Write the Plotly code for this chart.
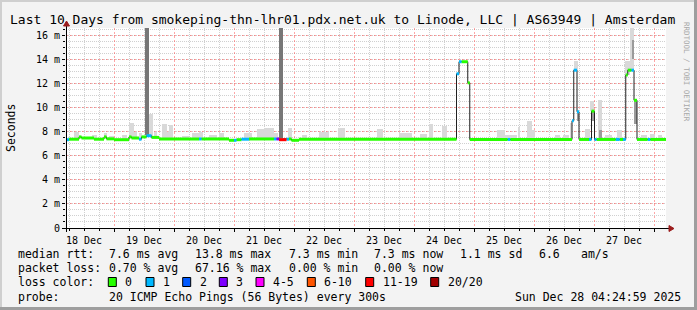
import plotly.graph_objects as go
from datetime import datetime, timedelta

# ---------------- data (hours since 2025-12-18 00:00, values in ms) ----------------
RANGE_H = [4.8, 244.8]
DAY_LABEL_FMT = "%d %b"

# median rtt runs: start hour, end hour, median (ms), loss class index
med_start = [4.8, 6, 10, 11, 16, 20, 21, 24, 30, 31, 34, 35, 37, 39, 42, 58, 59, 70, 72, 73,
             75, 78, 88, 89, 90, 93, 94, 95, 98, 161, 162, 163, 165.5, 166.3, 181.5, 182.5,
             207.2, 207.9, 209.2, 210, 214, 215, 216.2, 217, 224.7, 226.3, 227.6, 228.7,
             229.5, 231, 232, 233.2, 237.5, 238.5]
med_end = med_start[1:] + [244.8]
med_val = [7.33, 7.37, 7.56, 7.47, 7.37, 7.56, 7.40, 7.33, 7.56, 7.47, 7.37, 7.56, 7.66, 7.52,
           7.39, 7.39, 7.39, 7.28, 7.28, 7.33, 7.37, 7.39, 7.39, 7.39, 7.33, 7.37, 7.39, 7.28,
           7.37, 12.8, 13.8, 13.8, 12.05, 7.35, 7.35, 7.35, 8.9, 13.1, 9.65, 7.35, 7.35, 9.7,
           7.35, 7.35, 7.35, 7.35, 7.35, 12.7, 13.1, 13.1, 10.6, 7.35, 7.35, 7.35]
med_loss = [1, 0, 0, 0, 0, 0, 0, 0, 0, 0, 1, 0, 1, 0, 0, 1, 0, 0, 1, 0,
            1, 0, 1, 3, 6, 1, 0, 0, 0, 1, 1, 0, 0, 0, 1, 0,
            1, 1, 1, 0, 1, 0, 1, 0, 1, 0, 1, 0, 0, 1, 0, 0, 1, 0]

# light smoke (ping spread above the median): start hour, end hour, top (ms)
smoke_start = [8, 15, 20, 22, 27, 30, 32, 34, 38, 40, 43, 45, 46, 51, 55, 58, 62, 66, 76, 81,
               84, 88, 93.5, 99, 106, 113.5, 129, 138, 150, 155, 146.5, 177, 180.5, 185.5,
               189, 191, 200.5, 203.5, 206.3, 208, 212.4, 214.4, 217.6, 220.4, 225.2, 228.4,
               230.5, 234.8, 238.4, 241.6]
smoke_end = [10, 17, 21, 24, 29, 32, 33, 35, 39.5, 41, 45, 46, 47.5, 54, 58, 59.5, 65, 68, 79, 84,
             88, 89.5, 95, 101, 110, 116.5, 131.5, 143, 151.5, 157, 149, 180.5, 185.2, 186.5,
             191, 192.5, 202.5, 206, 207.2, 209.6, 214.4, 216, 219.2, 223.2, 227.2, 230.5,
             232, 237.2, 240.4, 243.2]
smoke_top = [7.95, 7.75, 7.9, 7.65, 7.7, 8.7, 8.0, 7.9, 9.5, 8.0, 8.65, 8.0, 8.55, 7.65, 7.85,
             8.0, 7.7, 7.85, 7.85, 8.2, 8.3, 7.9, 8.3, 7.7, 8.0, 8.3, 8.2, 7.9, 8.6, 8.5, 7.8,
             8.15, 7.75, 8.35, 8.85, 8.15, 7.75, 7.75, 8.7, 13.85, 8.2, 10.55, 10.65, 7.75,
             8.15, 13.85, 16.6, 7.75, 7.8, 7.75]

# dense smoke: start hour, end hour, low, high (ms), shade (0 = dark, 1 = medium)
dense_start = [36.5, 90, 209.2, 215, 218, 231, 232]
dense_end = [38, 91.5, 210, 216.2, 219, 232, 233.2]
dense_low = [7.7, 7.5, 8.85, 8.9, 7.45, 14.0, 8.6]
dense_high = [16.6, 16.6, 9.65, 9.7, 8.15, 15.6, 10.6]
dense_shade = [0, 0, 1, 1, 1, 1, 1]

loss_labels = ["0", "1", "2", "3", "4-5", "6-10", "11-19", "20/20"]
loss_colors = ["#26ff00", "#00b8ff", "#0059ff", "#7e00ff", "#ff00ff", "#ff5500", "#ff0000", "#a10000"]

y_tick_vals = [0, 2, 4, 6, 8, 10, 12, 14, 16]
y_tick_text = ["0", "2 m", "4 m", "6 m", "8 m", "10 m", "12 m", "14 m", "16 m"]
Y_MAX = 16.6

title_text = "Last 10 Days from smokeping-thn-lhr01.pdx.net.uk to Linode, LLC | AS63949 | Amsterdam"
stats_rtt = [("median rtt:", 16), ("7.6 ms avg", 107.3), ("13.8 ms max", 193.3), ("7.3 ms min", 286.7),
             ("7.3 ms now", 372.3), ("1.1 ms sd", 458.3), ("6.6", 536.7), ("am/s", 579)]
stats_loss = [("packet loss:", 16), ("0.70 % avg", 107.3), ("67.16 % max", 193.3),
              ("0.00 % min", 286.7), ("0.00 % now", 372.3)]
probe_text = "20 ICMP Echo Pings (56 Bytes) every 300s"
stamp_text = "Sun Dec 28 04:24:59 2025"

# ---------------- layout geometry ----------------
W, H = 697, 310
PL, PR, PT, PB = 66, 666, 28, 228
T0 = datetime(2025, 12, 18)
MONO = "DejaVu Sans Mono"


def at(h):
    return T0 + timedelta(hours=h)


def px(x):
    return (x - PL) / (PR - PL)


def py(y):
    return (PB - y) / (PB - PT)


def median_at(h):
    for s, e, v in zip(med_start, med_end, med_val):
        if s <= h < e:
            return v
    return med_val[-1]


fig = go.Figure()

# light smoke
mids = [(s + e) / 2 for s, e in zip(smoke_start, smoke_end)]
bases = [median_at(m) for m in mids]
fig.add_trace(go.Bar(
    x=[at(m) for m in mids],
    y=[t - b for t, b in zip(smoke_top, bases)],
    base=bases,
    width=[(e - s) * 3600 * 1000 for s, e in zip(smoke_start, smoke_end)],
    marker=dict(color="#d9d9d9", line=dict(width=0)),
    hoverinfo="skip", showlegend=False))

# dense smoke
shade_cols = ["#777777", "#9a9a9a"]
dmids = [(s + e) / 2 for s, e in zip(dense_start, dense_end)]
fig.add_trace(go.Bar(
    x=[at(m) for m in dmids],
    y=[hi - lo for lo, hi in zip(dense_low, dense_high)],
    base=dense_low,
    width=[(e - s) * 3600 * 1000 for s, e in zip(dense_start, dense_end)],
    marker=dict(color=[shade_cols[k] for k in dense_shade], line=dict(width=0)),
    hoverinfo="skip", showlegend=False))

# thin median line
mx, my = [], []
for s, e, v in zip(med_start, med_end, med_val):
    mx += [at(s), at(e)]
    my += [v, v]
fig.add_trace(go.Scatter(x=mx, y=my, mode="lines", line=dict(color="#202020", width=1),
                         hoverinfo="skip", showlegend=False))

# loss coloured median bands
for ci, col in enumerate(loss_colors):
    sx, sy = [], []
    for s, e, v, lc in zip(med_start, med_end, med_val, med_loss):
        if lc == ci:
            sx += [at(s), at(e), None]
            sy += [v, v, None]
    if sx:
        fig.add_trace(go.Scatter(x=sx, y=sy, mode="lines", line=dict(color=col, width=3),
                                 hoverinfo="skip", showlegend=False))

grid_minor = "rgba(150,150,150,0.45)"
grid_major = "rgba(255,60,60,0.45)"

fig.update_layout(
    width=W, height=H,
    margin=dict(l=PL, r=W - PR, t=PT, b=H - PB, pad=0),
    paper_bgcolor="#f3f3f3", plot_bgcolor="#ffffff",
    barmode="overlay", bargap=0,
    showlegend=False,
    font=dict(family=MONO, color="#000000", size=10),
    xaxis=dict(
        type="date", range=[at(RANGE_H[0]), at(RANGE_H[1])],
        tick0=T0, dtick=86400000, ticklabelmode="period", tickformat=DAY_LABEL_FMT,
        showgrid=True, gridcolor=grid_major, griddash="2px,2px", gridwidth=1,
        ticks="outside", ticklen=3, tickcolor="#000000",
        minor=dict(dtick=6 * 3600 * 1000, tick0=T0, showgrid=True, gridcolor=grid_minor,
                   griddash="1px,1px", ticks="outside", ticklen=2, tickcolor="#000000"),
        showline=False, zeroline=False, fixedrange=True,
        tickfont=dict(family=MONO, size=10),
    ),
    yaxis=dict(
        range=[0, Y_MAX], tickvals=y_tick_vals, ticktext=y_tick_text,
        showgrid=True, gridcolor=grid_major, griddash="2px,2px",
        ticks="outside", ticklen=3, tickcolor="#000000",
        minor=dict(dtick=0.5, showgrid=True, gridcolor=grid_minor, griddash="1px,1px",
                   ticks="outside", ticklen=2, tickcolor="#000000"),
        showline=False, zeroline=False, fixedrange=True,
        tickfont=dict(family=MONO, size=10),
    ),
)

shapes = []
# frame shading
shapes.append(dict(type="rect", xref="paper", yref="paper", x0=px(0), x1=px(W), y0=py(0), y1=py(2),
                   fillcolor="#cfcfcf", line_width=0, layer="below"))
shapes.append(dict(type="rect", xref="paper", yref="paper", x0=px(0), x1=px(2), y0=py(0), y1=py(H),
                   fillcolor="#cfcfcf", line_width=0, layer="below"))
shapes.append(dict(type="rect", xref="paper", yref="paper", x0=px(W - 3), x1=px(W), y0=py(0), y1=py(H),
                   fillcolor="#9e9e9e", line_width=0, layer="below"))
shapes.append(dict(type="rect", xref="paper", yref="paper", x0=px(0), x1=px(W), y0=py(H - 3), y1=py(H),
                   fillcolor="#9e9e9e", line_width=0, layer="below"))
# axes with arrows
shapes.append(dict(type="line", xref="paper", yref="paper", x0=px(PL + 0.5), x1=px(PL + 0.5),
                   y0=py(PB + 4), y1=py(PT - 5), line=dict(color="#000000", width=1)))
shapes.append(dict(type="line", xref="paper", yref="paper", x0=px(PL - 4), x1=px(PR + 4),
                   y0=py(PB + 0.5), y1=py(PB + 0.5), line=dict(color="#000000", width=1)))
shapes.append(dict(type="path", xref="paper", yref="paper",
                   path="M {} {} L {} {} L {} {} Z".format(px(PL - 2.5), py(PT - 2), px(PL + 3.5), py(PT - 2),
                                                           px(PL + 0.5), py(PT - 7)),
                   fillcolor="#9b1c1c", line=dict(color="#9b1c1c", width=1)))
shapes.append(dict(type="path", xref="paper", yref="paper",
                   path="M {} {} L {} {} L {} {} Z".format(px(PR + 3), py(PB - 2.5), px(PR + 3), py(PB + 3.5),
                                                           px(PR + 8), py(PB + 0.5)),
                   fillcolor="#9b1c1c", line=dict(color="#9b1c1c", width=1)))

annotations = []


def txt(s, x, y, size=11.5, color="#000000", **kw):
    annotations.append(dict(text=s, xref="paper", yref="paper", x=px(x), y=py(y), showarrow=False,
                            xanchor=kw.get("xanchor", "left"), yanchor="middle",
                            font=dict(family=MONO, size=size, color=color),
                            textangle=kw.get("textangle", 0)))


txt(title_text, 8, 19, size=13)
txt("Seconds", 11, 128, textangle=-90, xanchor="center")
for s, x in stats_rtt:
    txt(s, x, 254)
for s, x in stats_loss:
    txt(s, x, 268)
txt("loss color:", 16, 282)
box_x = [108.3, 146, 182.7, 219.3, 256, 307.3, 365.7, 430.7]
for lab, col, bx in zip(loss_labels, loss_colors, box_x):
    shapes.append(dict(type="rect", xref="paper", yref="paper", x0=px(bx), x1=px(bx + 8),
                       y0=py(277.5), y1=py(286.5), fillcolor=col, line=dict(color="#000000", width=1)))
    txt(lab, bx + 15, 282)
txt("probe:", 16, 297)
txt(probe_text, 107.3, 297)
txt(stamp_text, 513.3, 297)
txt("RRDTOOL / TOBI OETIKER", 687, 72, size=7.5, color="#a8a8a8", textangle=90, xanchor="center")

fig.update_layout(shapes=shapes, annotations=annotations)
fig.write_html("out.html")
